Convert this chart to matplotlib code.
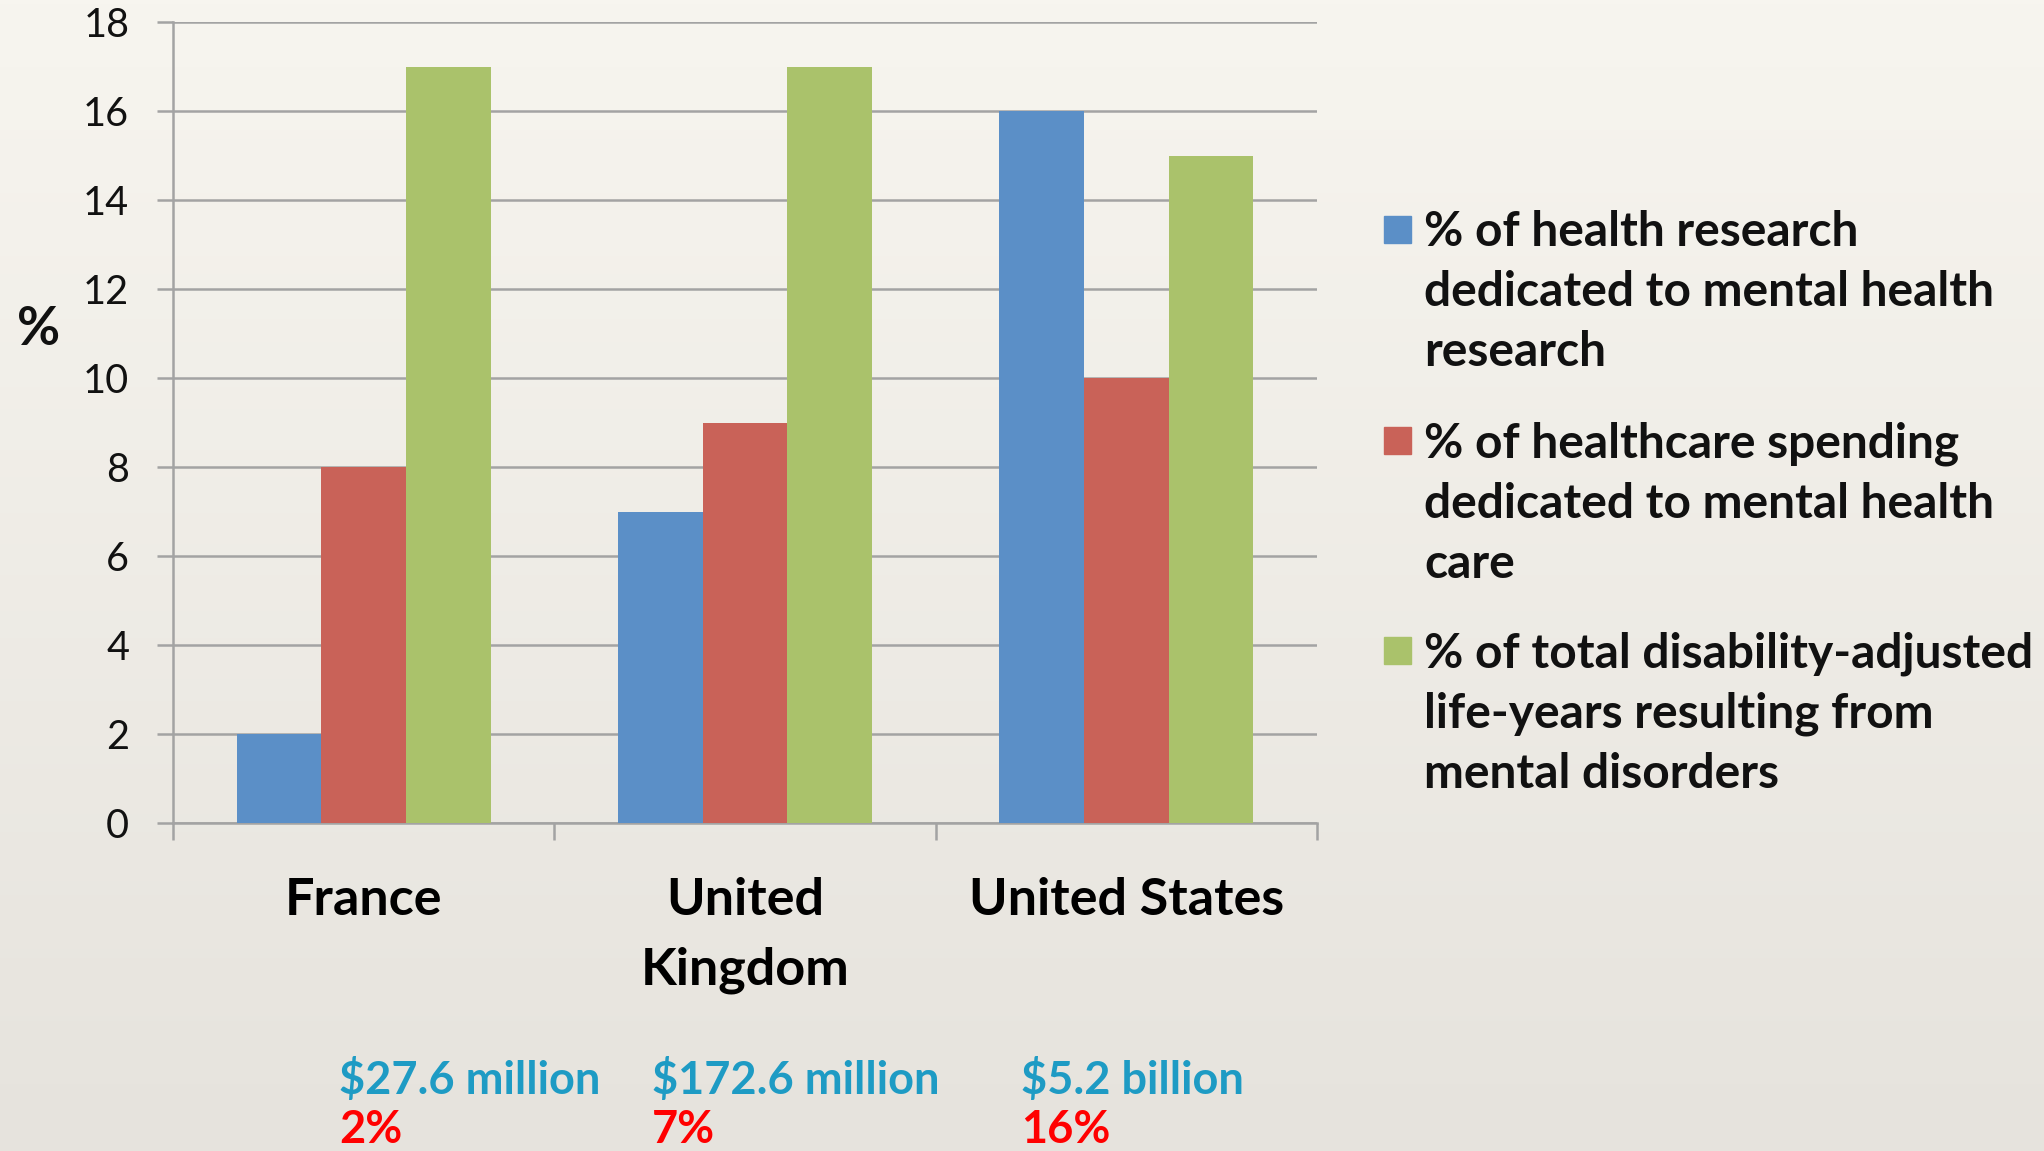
import numpy as np
import matplotlib
matplotlib.use('Agg')
import matplotlib.pyplot as plt
from matplotlib.patches import Rectangle

# 数据
categories = ['France', 'United\nKingdom', 'United States']
research_share = [2, 7, 16]
spending_share = [8, 9, 10]
daly_share = [17, 17, 15]
series_labels = [
    '% of health research\ndedicated to mental health\nresearch',
    '% of healthcare spending\ndedicated to mental health\ncare',
    '% of total disability-adjusted\nlife-years resulting from\nmental disorders',
]
series_colors = ['#5B8FC7', '#C96258', '#AAC26B']
funding_amount = ['$27.6 million', '$172.6 million', '$5.2 billion']
funding_pct = ['2%', '7%', '16%']
y_ticks = list(range(0, 19, 2))

plt.rcParams['font.family'] = ['Lato', 'DejaVu Sans']

W, H = 2044, 1151
fig = plt.figure(figsize=(W / 100, H / 100), dpi=100)

# 背景渐变
bg = fig.add_axes([0, 0, 1, 1], zorder=-10)
top = np.array([247, 245, 239]) / 255
bot = np.array([230, 227, 221]) / 255
t = np.linspace(0, 1, 256)[:, None]
grad = top[None, :] * (1 - t) + bot[None, :] * t
bg.imshow(grad[:, None, :], aspect='auto', extent=[0, 1, 0, 1])
bg.axis('off')

# 主图
ax = fig.add_axes([173 / W, 1 - 823 / H, (1317 - 173) / W, (823 - 22) / H])
ax.set_facecolor('none')

x = np.arange(len(categories))
w = 0.222
for i, (vals, color) in enumerate(zip([research_share, spending_share, daly_share], series_colors)):
    ax.bar(x + (i - 1) * w, vals, width=w, color=color, zorder=3)

ax.set_xlim(-0.5, len(categories) - 0.5)
ax.set_ylim(0, 18)
ax.set_yticks(y_ticks)
grid_gray = '#A3A3A3'
ax.yaxis.grid(True, color=grid_gray, linewidth=1.8, zorder=0)
ax.set_axisbelow(True)

for s in ['top', 'right']:
    ax.spines[s].set_visible(False)
for s in ['left', 'bottom']:
    ax.spines[s].set_color(grid_gray)
    ax.spines[s].set_linewidth(1.8)

ax.tick_params(axis='y', length=11.5, width=1.8, color=grid_gray, pad=20,
               labelsize=28.5, labelcolor='#111111')

# x轴：分隔刻度 + 类别标签
ax.set_xticks(np.arange(-0.5, len(categories)), labels=[''] * (len(categories) + 1))
ax.tick_params(axis='x', which='major', length=12, width=1.8, color=grid_gray)
ax.set_xticks(x, labels=categories, minor=True)
ax.tick_params(axis='x', which='minor', length=0, pad=39, labelsize=37.5)
for lbl in ax.get_xticklabels(minor=True):
    lbl.set_fontweight('bold')
    lbl.set_linespacing(1.58)

# y轴标签
fig.text(39 / W, 1 - 329 / H, '%', fontsize=38, fontweight='bold',
         ha='center', va='center', color='#111111')

# 图例（手动绘制）
leg_x = 1384 / W
leg_tops = [216, 427, 637]
sq = 27
for label, color, ytop in zip(series_labels, series_colors, leg_tops):
    fig.patches.append(Rectangle((leg_x, 1 - (ytop + sq) / H), sq / W, sq / H,
                                 transform=fig.transFigure, color=color))
    fig.text(1424 / W, 1 - (ytop - 6) / H, label, fontsize=34.5, fontweight='bold',
             ha='left', va='top', linespacing=1.445, color='#111111')

# 底部注释
ann_x = [339, 652, 1021]
for xp, amt, pct in zip(ann_x, funding_amount, funding_pct):
    fig.text(xp / W, 1 - 1094 / H, amt, fontsize=32.5, fontweight='bold',
             color='#1E9BC4', ha='left', va='baseline')
    fig.text(xp / W, 1 - 1143 / H, pct, fontsize=32.5, fontweight='bold',
             color='#FF0000', ha='left', va='baseline')

fig.savefig('out.png', dpi=100)
